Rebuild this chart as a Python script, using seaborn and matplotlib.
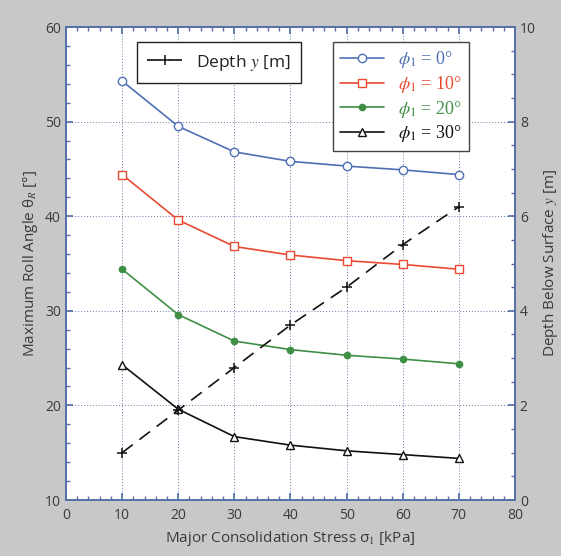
import matplotlib
matplotlib.use("Agg")
import matplotlib.pyplot as plt
import numpy as np
import pandas as pd
import seaborn as sns
from matplotlib.ticker import MultipleLocator

stress = [10, 20, 30, 40, 50, 60, 70]
phi_labels = ["0", "10", "20", "30"]
roll_phi0 = [54.3, 49.5, 46.8, 45.8, 45.3, 44.9, 44.4]
roll_phi10 = [44.4, 39.6, 36.8, 35.9, 35.3, 34.9, 34.4]
roll_phi20 = [34.4, 29.6, 26.8, 25.9, 25.3, 24.9, 24.4]
roll_phi30 = [24.3, 19.6, 16.7, 15.8, 15.2, 14.8, 14.4]
depth = [1.0, 1.9, 2.8, 3.7, 4.5, 5.4, 6.2]

sns.set_theme(style="white")
plt.rcParams["font.family"] = ["Open Sans", "DejaVu Sans"]
plt.rcParams["mathtext.fontset"] = "stix"

frame_col = "#5570a8"
text_col = "#3a3a3a"
colors = ["#4f6fb5", "#e84a32", "#3f8f45", "#111111"]
markers = ["o", "s", "o", "^"]
fills = ["white", "white", "#3f8f45", "white"]
sizes = [6, 6, 4.5, 6]

fig = plt.figure(figsize=(5.61, 5.56), dpi=100, facecolor="#c8c8c8")
ax = fig.add_axes([0.1176, 0.1007, 0.8004, 0.8507])
ax.set_facecolor("white")

series = [roll_phi0, roll_phi10, roll_phi20, roll_phi30]
handles = []
for vals, lab, c, m, f, s in zip(series, phi_labels, colors, markers, fills, sizes):
    df = pd.DataFrame({"stress": stress, "roll": vals})
    sns.lineplot(data=df, x="stress", y="roll", ax=ax, color=c, linewidth=1.2,
                 marker=m, markersize=s, markerfacecolor=f, markeredgecolor=c,
                 markeredgewidth=1.0, legend=False)
    handles.append(ax.lines[-1])

ax.set_xlim(0, 80)
ax.set_ylim(10, 60)
ax.xaxis.set_major_locator(MultipleLocator(10))
ax.xaxis.set_minor_locator(MultipleLocator(2))
ax.yaxis.set_major_locator(MultipleLocator(10))
ax.yaxis.set_minor_locator(MultipleLocator(2))
ax.grid(True, which="major", linestyle=(0, (1, 2)), color="#6a7aa8", linewidth=0.7)
ax.tick_params(which="both", direction="in", colors=frame_col, labelcolor=text_col,
               labelsize=10, top=True, bottom=True, left=True, right=False)
ax.tick_params(axis="x", pad=6)
ax.tick_params(which="major", length=5)
ax.tick_params(which="minor", length=3)
for sp in ax.spines.values():
    sp.set_color(frame_col)
    sp.set_linewidth(1.2)
ax.set_xlabel("Major Consolidation Stress σ$_1$ [kPa]", fontsize=11, color=text_col)
ax.set_ylabel("Maximum Roll Angle θ$_R$ [°]", fontsize=11, color=text_col)

ax2 = ax.twinx()
df_d = pd.DataFrame({"stress": stress, "depth": depth})
sns.lineplot(data=df_d, x="stress", y="depth", ax=ax2, color="#111111", linewidth=1.2,
             marker="+", markersize=7.5, markeredgewidth=1.1, markeredgecolor="#111111",
             legend=False)
depth_line = ax2.lines[-1]
depth_line.set_dashes([8, 5])
ax2.set_ylim(0, 10)
ax2.yaxis.set_major_locator(MultipleLocator(2))
ax2.yaxis.set_minor_locator(MultipleLocator(0.5))
ax2.tick_params(which="both", direction="in", colors=frame_col, labelcolor=text_col,
                labelsize=10)
ax2.tick_params(which="major", length=5)
ax2.tick_params(which="minor", length=3)
for sp in ax2.spines.values():
    sp.set_color(frame_col)
    sp.set_linewidth(1.2)
ax2.set_ylabel("Depth Below Surface $y$ [m]", fontsize=11, color=text_col)
ax2.grid(False)

leg1 = ax2.legend([depth_line], ["Depth $y$ [m]"], loc="upper left",
                  bbox_to_anchor=(0.158, 0.968), borderaxespad=0, frameon=True,
                  fancybox=False, edgecolor="#222222", fontsize=12.5, handlelength=2.0,
                  borderpad=0.6)
leg1.get_frame().set_linewidth(1.0)
leg1.get_frame().set_alpha(1)
for t in leg1.get_texts():
    t.set_color("#222222")

leg2 = ax2.legend(handles, [f"$\\phi_1$ = {p}°" for p in phi_labels], loc="upper right",
                  bbox_to_anchor=(0.898, 0.968), borderaxespad=0, frameon=True,
                  fancybox=False, edgecolor="#444444", handlelength=2.4,
                  labelspacing=0.2, borderpad=0.4,
                  prop={"family": "Liberation Serif", "size": 13})
leg2.get_frame().set_linewidth(1.0)
leg2.get_frame().set_alpha(1)
for t, c in zip(leg2.get_texts(), colors):
    t.set_color(c)
ax2.add_artist(leg1)

fig.savefig("out.png", dpi=100, facecolor=fig.get_facecolor())
